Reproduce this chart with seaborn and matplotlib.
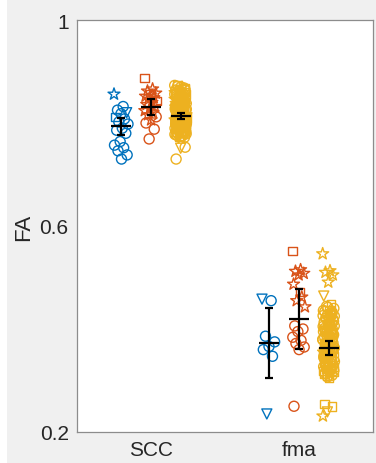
import numpy as np
import pandas as pd
import matplotlib
matplotlib.use("Agg")
import matplotlib.pyplot as plt
from matplotlib.patches import Rectangle
from matplotlib.markers import MarkerStyle
from matplotlib.transforms import Affine2D
import seaborn as sns

# ---- data -------------------------------------------------------------
regions = ["SCC", "fma"]
groups = ["g1", "g2", "g3"]
group_colors = {"g1": "#0072BD", "g2": "#D95319", "g3": "#EDB120"}

# FA values per region/group; marker codes: o circle, * star, s square, v triangle
scc_g1 = [0.856, 0.832, 0.825, 0.820, 0.818, 0.812, 0.808, 0.802, 0.798, 0.790,
          0.786, 0.780, 0.764, 0.757, 0.752, 0.746, 0.738, 0.730]
scc_g1_mk = "*oovosoooo" "oooooooo"

scc_g2 = [0.887, 0.866, 0.862, 0.858, 0.855, 0.852, 0.849, 0.846, 0.843, 0.840,
          0.836, 0.832, 0.828, 0.824, 0.820, 0.816, 0.812, 0.806, 0.800, 0.788,
          0.769]
scc_g2_mk = "s***s***s*" "******o*oo" "o"

scc_g3 = [0.873, 0.869, 0.871, 0.866, 0.862, 0.864, 0.858, 0.861, 0.855, 0.857,
          0.852, 0.849, 0.853, 0.846, 0.848, 0.844, 0.841, 0.845, 0.839, 0.842,
          0.836, 0.838, 0.834, 0.831, 0.835, 0.829, 0.832, 0.827, 0.830, 0.825,
          0.828, 0.823, 0.826, 0.821, 0.824, 0.819, 0.822, 0.817, 0.820, 0.815,
          0.818, 0.813, 0.816, 0.811, 0.814, 0.809, 0.812, 0.807, 0.810, 0.805,
          0.808, 0.803, 0.806, 0.801, 0.804, 0.799, 0.802, 0.797, 0.800, 0.795,
          0.798, 0.793, 0.796, 0.791, 0.794, 0.788, 0.792, 0.785, 0.790, 0.783,
          0.787, 0.780, 0.784, 0.777, 0.781, 0.774, 0.779, 0.771, 0.776, 0.772,
          0.818, 0.826, 0.811, 0.833, 0.804, 0.840, 0.797, 0.847, 0.789, 0.856,
          0.816, 0.822, 0.809, 0.829, 0.802, 0.837, 0.795, 0.812, 0.820, 0.806,
          0.868, 0.863, 0.859, 0.854, 0.850, 0.847, 0.843, 0.838, 0.834, 0.830,
          0.827, 0.823, 0.819, 0.815, 0.812, 0.808, 0.804, 0.800, 0.796, 0.792,
          0.789, 0.785, 0.781, 0.778, 0.775, 0.873, 0.865, 0.851, 0.836, 0.824,
          0.817, 0.803, 0.791, 0.782, 0.860, 0.845, 0.828, 0.814, 0.799, 0.786,
          0.870, 0.856, 0.841, 0.826, 0.811, 0.796, 0.781, 0.867, 0.849, 0.831,
          0.813, 0.798, 0.784, 0.774, 0.858, 0.839, 0.821, 0.806, 0.793, 0.779,
          0.753, 0.751, 0.730]
scc_g3_mk = ("o*os*oo*so" "oso*oosovo" "sooo*soo*o" "osoosoo*os" "oo*osoosoo"
             "soovoos*oo" "osoo*osoos" "oosooso*oo" "so*osoos*o" "oosoo*osoo"
             "oo*osoo*so" "osoo*oosoo" "so*ooso*oo" "osoos*ooso" "oo*osooso*"
             "osoooso*oo" "ovo")

fma_g1 = [0.458, 0.455, 0.386, 0.375, 0.366, 0.360, 0.347, 0.235]
fma_g1_mk = "vooooo" "ov"

fma_g2 = [0.551, 0.515, 0.512, 0.508, 0.505, 0.487, 0.462, 0.455, 0.443, 0.472,
          0.406, 0.400, 0.395, 0.384, 0.378, 0.372, 0.365, 0.360, 0.250]
fma_g2_mk = "s********s" "ooooooooo"

fma_g3 = [0.546, 0.513, 0.510, 0.505, 0.491, 0.464, 0.449, 0.444, 0.440, 0.437,
          0.434, 0.431, 0.428, 0.426, 0.423, 0.421, 0.418, 0.416, 0.413, 0.411,
          0.409, 0.406, 0.404, 0.402, 0.399, 0.397, 0.395, 0.393, 0.391, 0.389,
          0.387, 0.385, 0.383, 0.381, 0.379, 0.377, 0.375, 0.373, 0.371, 0.369,
          0.367, 0.365, 0.363, 0.361, 0.359, 0.357, 0.355, 0.353, 0.351, 0.349,
          0.347, 0.345, 0.343, 0.341, 0.339, 0.337, 0.335, 0.333, 0.331, 0.329,
          0.327, 0.325, 0.322, 0.319, 0.316, 0.313, 0.310, 0.307, 0.318, 0.312,
          0.372, 0.358, 0.385, 0.344, 0.398, 0.330, 0.364, 0.378, 0.352, 0.391,
          0.442, 0.436, 0.429, 0.422, 0.415, 0.408, 0.401, 0.394, 0.387, 0.380,
          0.374, 0.368, 0.361, 0.354, 0.347, 0.340, 0.333, 0.326, 0.320, 0.314,
          0.432, 0.419, 0.405, 0.392, 0.379, 0.366, 0.350, 0.336, 0.323, 0.309,
          0.425, 0.411, 0.397, 0.383, 0.369, 0.355, 0.341, 0.328, 0.317, 0.306,
          0.254, 0.250, 0.239, 0.231]
fma_g3_mk = ("*****vsoos" "osoo*oosoo" "soo*osoovo" "oosoos*oos" "osoo*oosoo"
             "soos*oosos" "osso*soos*" "oosoosoo*o" "oosoo*osoo" "soo*ososoo"
             "o*oosoosos" "osoos*ooss" "ssv*")

# group means and 95% CI half-widths (order: g1, g2, g3)
scc_mean = [0.794, 0.831, 0.814]
scc_ci = [0.0165, 0.016, 0.0055]
fma_mean = [0.373, 0.419, 0.363]
fma_ci = [0.0685, 0.058, 0.0135]

# ---- assemble long table ---------------------------------------------
series = {
    ("SCC", "g1"): (scc_g1, scc_g1_mk),
    ("SCC", "g2"): (scc_g2, scc_g2_mk),
    ("SCC", "g3"): (scc_g3, scc_g3_mk),
    ("fma", "g1"): (fma_g1, fma_g1_mk),
    ("fma", "g2"): (fma_g2, fma_g2_mk),
    ("fma", "g3"): (fma_g3, fma_g3_mk),
}
offsets = {"g1": -0.2, "g2": 0.0, "g3": 0.2}
jitter_half = {"g1": 0.05, "g2": 0.045, "g3": 0.04}
golden = 0.6180339887

rows = []
for (reg, grp), (vals, mks) in series.items():
    base = regions.index(reg) + 1 + offsets[grp]
    for k, (v, m) in enumerate(zip(vals, mks)):
        jit = ((k * golden) % 1.0 - 0.5) * 2 * jitter_half[grp]
        rows.append({"region": reg, "group": grp, "x": base + jit,
                     "FA": v, "marker": m})
df = pd.DataFrame(rows)

# ---- figure -----------------------------------------------------------
sns.set_theme(style="white")
plt.rcParams["font.family"] = ["Liberation Sans", "DejaVu Sans"]

fig = plt.figure(figsize=(3.76, 4.64), dpi=100, facecolor="#f0f0f0")
fig.patches.append(Rectangle((0, 0), 7 / 376, 1, transform=fig.transFigure,
                             facecolor="white", edgecolor="none", zorder=-1))
ax = fig.add_axes([77 / 376, 31 / 464, 296 / 376, 412 / 464])
ax.set_facecolor("white")

square = MarkerStyle("s", transform=Affine2D().scale(0.85))
star = MarkerStyle("*", transform=Affine2D().scale(1.25))
sns.scatterplot(data=df, x="x", y="FA", hue="group", style="marker",
                hue_order=groups, palette=group_colors,
                markers={"o": "o", "*": star, "s": square, "v": "v"},
                s=52, legend=False, ax=ax, zorder=2)

# open markers
for coll in ax.collections:
    fc = coll.get_facecolors()
    coll.set_edgecolors(fc)
    coll.set_facecolors("none")
    coll.set_linewidths(1.0)

# mean +/- CI
for ridx, (means, cis) in enumerate([(scc_mean, scc_ci), (fma_mean, fma_ci)]):
    xs = np.array([ridx + 1 + offsets[g] for g in groups])
    ax.errorbar(xs, means, yerr=cis, fmt="none", ecolor="black",
                elinewidth=1.6, capsize=3, capthick=1.6, zorder=3)
    ax.hlines(means, xs - 0.068, xs + 0.068, color="black", lw=1.6, zorder=3)

ax.set_xlim(0.5, 2.5)
ax.set_ylim(0.2, 1.0)
ax.set_xticks([1, 2])
ax.set_xticklabels(regions)
ax.set_yticks([0.2, 0.6, 1.0])
ax.set_yticklabels(["0.2", "0.6", "1"])
ax.set_xlabel("")
ax.set_ylabel("FA", fontsize=16, color="#262626", labelpad=4)
ax.tick_params(axis="both", labelsize=15, labelcolor="#262626",
               direction="in", length=3, width=0.8, color="#8c8c8c", pad=6)
for sp in ax.spines.values():
    sp.set_visible(True)
    sp.set_color("#8c8c8c")
    sp.set_linewidth(0.9)

fig.savefig("out.png", dpi=100, facecolor=fig.get_facecolor())
